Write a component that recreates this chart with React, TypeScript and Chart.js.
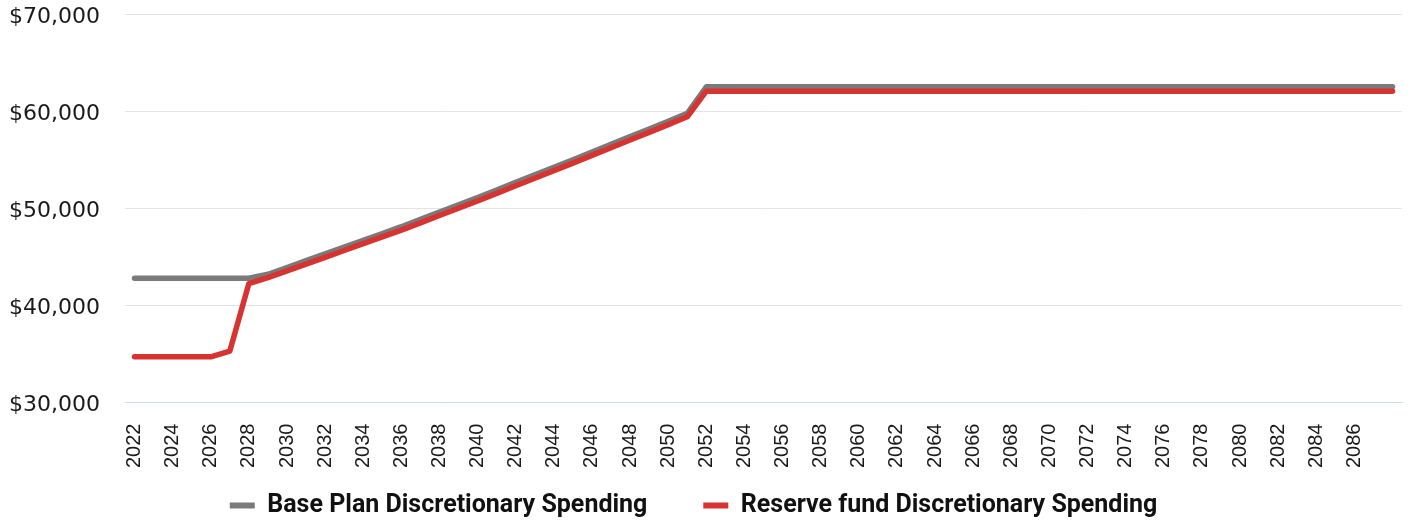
import React, { useEffect, useRef } from "react";
import { Chart, registerables } from "chart.js";

Chart.register(...registerables);

const years: string[] = [
  "2022", "2023", "2024", "2025", "2026", "2027", "2028", "2029", "2030", "2031",
  "2032", "2033", "2034", "2035", "2036", "2037", "2038", "2039", "2040", "2041",
  "2042", "2043", "2044", "2045", "2046", "2047", "2048", "2049", "2050", "2051",
  "2052", "2053", "2054", "2055", "2056", "2057", "2058", "2059", "2060", "2061",
  "2062", "2063", "2064", "2065", "2066", "2067", "2068", "2069", "2070", "2071",
  "2072", "2073", "2074", "2075", "2076", "2077", "2078", "2079", "2080", "2081",
  "2082", "2083", "2084", "2085", "2086", "2087", "2088",
];

const baseSpending: number[] = [
  42800, 42800, 42800, 42800, 42800, 42800, 42800, 43200, 43900, 44600,
  45300, 46000, 46700, 47400, 48100, 48850, 49600, 50350, 51100, 51880,
  52660, 53440, 54220, 55000, 55790, 56580, 57370, 58160, 58960, 59780,
  62500, 62500, 62500, 62500, 62500, 62500, 62500, 62500, 62500, 62500,
  62500, 62500, 62500, 62500, 62500, 62500, 62500, 62500, 62500, 62500,
  62500, 62500, 62500, 62500, 62500, 62500, 62500, 62500, 62500, 62500,
  62500, 62500, 62500, 62500, 62500, 62500, 62500,
];

const reserveSpending: number[] = [
  34700, 34700, 34700, 34700, 34700, 35300, 42250, 42850, 43550, 44250,
  44950, 45650, 46350, 47050, 47750, 48500, 49250, 50000, 50750, 51530,
  52310, 53090, 53870, 54650, 55440, 56230, 57020, 57810, 58610, 59420,
  62050, 62050, 62050, 62050, 62050, 62050, 62050, 62050, 62050, 62050,
  62050, 62050, 62050, 62050, 62050, 62050, 62050, 62050, 62050, 62050,
  62050, 62050, 62050, 62050, 62050, 62050, 62050, 62050, 62050, 62050,
  62050, 62050, 62050, 62050, 62050, 62050, 62050,
];

const seriesNames: string[] = [
  "Base Plan Discretionary Spending",
  "Reserve fund Discretionary Spending",
];

const yTicks: number[] = [30000, 40000, 50000, 60000, 70000];

const GRAY = "#7a7a7a";
const RED = "#d73330";

export default function App() {
  const ref = useRef<HTMLCanvasElement | null>(null);

  useEffect(() => {
    if (!ref.current) return;
    const chart = new Chart(ref.current, {
      type: "line",
      data: {
        labels: years,
        datasets: [
          {
            label: seriesNames[0],
            data: baseSpending,
            borderColor: GRAY,
            backgroundColor: GRAY,
            borderWidth: 5.5,
            pointRadius: 0,
            tension: 0,
            borderCapStyle: "round",
            borderJoinStyle: "round",
            order: 1,
          },
          {
            label: seriesNames[1],
            data: reserveSpending,
            borderColor: RED,
            backgroundColor: RED,
            borderWidth: 5.5,
            pointRadius: 0,
            tension: 0,
            borderCapStyle: "round",
            borderJoinStyle: "round",
            order: 0,
          },
        ],
      },
      options: {
        animation: false,
        responsive: true,
        maintainAspectRatio: false,
        layout: { padding: { left: 2, right: 3, top: 0, bottom: -6 } },
        plugins: {
          tooltip: { enabled: false },
          legend: {
            position: "bottom",
            labels: {
              boxWidth: 25,
              boxHeight: 6,
              padding: 0,
              color: "#111",
              font: { family: "Roboto", size: 25, weight: "bold", lineHeight: 1 },
              sort: (a: any, b: any) => a.datasetIndex - b.datasetIndex,
              generateLabels: (c: any) =>
                c.data.datasets.map((ds: any, i: number) => ({
                  text: i === 0 ? ds.label + "         " : ds.label + "    ",
                  fillStyle: ds.borderColor,
                  strokeStyle: ds.borderColor,
                  lineWidth: 0,
                  hidden: false,
                  datasetIndex: i,
                  fontColor: "#111",
                })),
            },
          },
        },
        scales: {
          x: {
            offset: true,
            grid: { display: false, drawTicks: false },
            border: { display: true, color: "#cdd9ec", width: 1 },
            afterFit: (scale: any) => {
              scale.paddingLeft = 0;
              scale.paddingRight = 0;
              scale.height = scale.height + 4;
            },
            ticks: {
              autoSkip: false,
              maxRotation: 90,
              minRotation: 90,
              padding: 21,
              color: "#1a1a1a",
              font: { family: "Liberation Sans", size: 20 },
              callback: (_v: any, i: number) =>
                i % 2 === 0 && i < years.length - 1 ? years[i] : "",
            },
          },
          y: {
            min: yTicks[0],
            max: yTicks[yTicks.length - 1],
            afterBuildTicks: (scale: any) => {
              scale.ticks = yTicks.map((v) => ({ value: v }));
            },
            afterFit: (scale: any) => {
              scale.paddingTop = 14;
              scale.paddingBottom = 0;
              scale.width = 115;
            },
            grid: { color: "#e4e4e4", drawTicks: false },
            border: { display: false },
            ticks: {
              padding: 25,
              labelOffset: 3,
              color: "#1a1a1a",
              font: { family: "DejaVu Sans", size: 22 },
              callback: (v: any) => "$" + Number(v).toLocaleString("en-US"),
            },
          },
        },
      },
    });
    return () => chart.destroy();
  }, []);

  return (
    <div
      style={{
        position: "absolute",
        left: 8,
        top: 0,
        width: 1397,
        height: 522,
      }}
    >
      <canvas ref={ref} />
    </div>
  );
}
